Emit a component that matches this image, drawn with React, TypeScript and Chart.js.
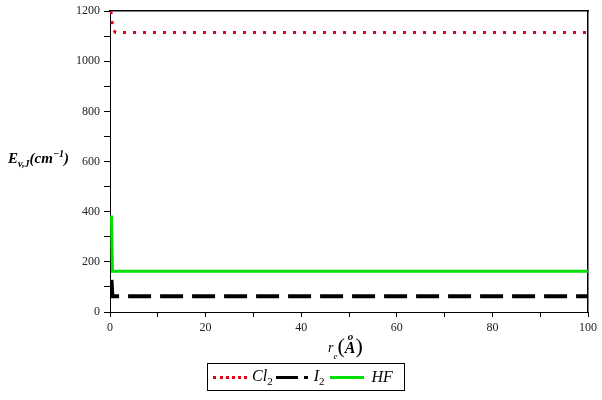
import { useEffect, useRef } from 'react';
import { Chart, registerables } from 'chart.js';

Chart.register(...registerables);

// 數據 (r_e in Å, E in cm^-1)
const cl2R = [0.2, 0.4, 0.6, 1.2, 100];
const cl2E = [1200, 1160, 1125, 1115, 1115];
const i2R = [0.3, 0.5, 100];
const i2E = [128, 63, 63];
const hfR = [0.3, 0.5, 100];
const hfE = [385, 163, 163];

const xTicks = [0, 20, 40, 60, 80, 100];
const yTicks = [0, 200, 400, 600, 800, 1000, 1200];

const toPoints = (xs: number[], ys: number[]) => xs.map((x, i) => ({ x, y: ys[i] }));

const tickFont = { family: '"Liberation Serif", "Times New Roman", serif', size: 12 };

export default function App() {
  const chartRef = useRef<HTMLCanvasElement>(null);
  const chartInstance = useRef<Chart | null>(null);

  useEffect(() => {
    if (!chartRef.current) return;
    if (chartInstance.current) chartInstance.current.destroy();
    const ctx = chartRef.current.getContext('2d');
    if (!ctx) return;

    chartInstance.current = new Chart(ctx, {
      type: 'line',
      data: {
        datasets: [
          {
            label: 'Cl2',
            data: toPoints(cl2R, cl2E),
            borderColor: '#e0001b',
            borderWidth: 3,
            borderDash: [3, 7],
            pointRadius: 0,
            fill: false,
            tension: 0,
          },
          {
            label: 'I2',
            data: toPoints(i2R, i2E),
            borderColor: '#000000',
            borderWidth: 4,
            borderDash: [23, 9],
            pointRadius: 0,
            fill: false,
            tension: 0,
          },
          {
            label: 'HF',
            data: toPoints(hfR, hfE),
            borderColor: '#00e000',
            borderWidth: 3,
            pointRadius: 0,
            fill: false,
            tension: 0,
          },
        ],
      },
      options: {
        responsive: true,
        maintainAspectRatio: false,
        animation: false,
        layout: { padding: { left: 70, top: 11, right: 14, bottom: 66 } },
        plugins: {
          legend: { display: false },
          tooltip: { enabled: false },
        },
        scales: {
          x: {
            type: 'linear',
            position: 'bottom',
            min: 0,
            max: 100,
            afterFit: (s: any) => { s.height = 22; },
            ticks: {
              stepSize: 10,
              autoSkip: false,
              maxRotation: 0,
              padding: 4,
              color: '#222',
              font: tickFont,
              callback: (v: any) => (xTicks.includes(Number(v)) ? String(v) : ''),
            },
            grid: { drawOnChartArea: false, tickLength: 5, color: '#000' },
            border: { color: '#000', width: 1 },
          },
          y: {
            type: 'linear',
            position: 'left',
            min: 0,
            max: 1200,
            afterFit: (s: any) => { s.width = 40; },
            ticks: {
              stepSize: 100,
              autoSkip: false,
              padding: 4,
              color: '#222',
              font: tickFont,
              callback: (v: any) => (yTicks.includes(Number(v)) ? String(v) : ''),
            },
            grid: { drawOnChartArea: false, tickLength: 6, color: '#000' },
            border: { color: '#000', width: 1 },
          },
          xTop: {
            type: 'linear',
            position: 'top',
            min: 0,
            max: 100,
            afterFit: (s: any) => { s.height = 0; },
            ticks: { display: false },
            grid: { drawOnChartArea: false, drawTicks: false },
            border: { color: '#000', width: 1.5 },
          },
          yRight: {
            type: 'linear',
            position: 'right',
            min: 0,
            max: 1200,
            afterFit: (s: any) => { s.width = 0; },
            ticks: { display: false },
            grid: { drawOnChartArea: false, drawTicks: false },
            border: { color: '#000', width: 1.5 },
          },
        },
      },
    });

    return () => {
      if (chartInstance.current) {
        chartInstance.current.destroy();
        chartInstance.current = null;
      }
    };
  }, []);

  const serif = '"Liberation Serif", "Times New Roman", serif';

  return (
    <div style={{ position: 'fixed', left: 0, top: 0, width: 602, height: 400, background: '#fff', fontFamily: serif }}>
      <div style={{ position: 'absolute', left: 0, top: 0, width: 602, height: 400 }}>
        <canvas ref={chartRef}></canvas>
      </div>

      {/* y 軸標題 */}
      <div style={{ position: 'absolute', left: 8, top: 148, fontSize: 15, fontStyle: 'italic', fontWeight: 'bold', whiteSpace: 'nowrap', color: '#000' }}>
        E<sub style={{ fontSize: 10 }}>v,J</sub>(cm<sup style={{ fontSize: 10 }}>−1</sup>)
      </div>

      {/* x 軸標題 */}
      <div style={{ position: 'absolute', left: 328, top: 334, fontStyle: 'italic', whiteSpace: 'nowrap', color: '#000', display: 'flex', alignItems: 'flex-end' }}>
        <span style={{ fontSize: 14, lineHeight: '20px' }}>r</span>
        <span style={{ fontSize: 9, lineHeight: '9px', marginBottom: -3 }}>e</span>
        <span style={{ fontSize: 22, lineHeight: '24px', fontStyle: 'normal' }}>(</span>
        <span style={{ position: 'relative', fontSize: 16, lineHeight: '20px', fontWeight: 'bold' }}>
          A
          <span style={{ position: 'absolute', left: 3, top: -12, fontSize: 11, fontWeight: 'bold' }}>o</span>
        </span>
        <span style={{ fontSize: 22, lineHeight: '24px', fontStyle: 'normal' }}>)</span>
      </div>

      {/* 圖例 */}
      <div style={{ position: 'absolute', left: 207, top: 363, width: 198, height: 28, border: '1px solid #000', boxSizing: 'border-box', display: 'flex', alignItems: 'center', fontSize: 16, fontStyle: 'italic', color: '#000', whiteSpace: 'nowrap' }}>
        <div style={{ marginLeft: 5, width: 34, borderTop: '3px dotted #e0001b' }}></div>
        <span style={{ marginLeft: 5 }}>Cl<sub style={{ fontSize: 11, fontStyle: 'normal' }}>2</sub></span>
        <div style={{ marginLeft: 3, width: 22, borderTop: '3px solid #000' }}></div>
        <div style={{ marginLeft: 6, width: 4, borderTop: '3px solid #000' }}></div>
        <span style={{ marginLeft: 6 }}>I<sub style={{ fontSize: 11, fontStyle: 'normal' }}>2</sub></span>
        <div style={{ marginLeft: 6, width: 34, borderTop: '3px solid #00e000' }}></div>
        <span style={{ marginLeft: 7 }}>HF</span>
      </div>
    </div>
  );
}
